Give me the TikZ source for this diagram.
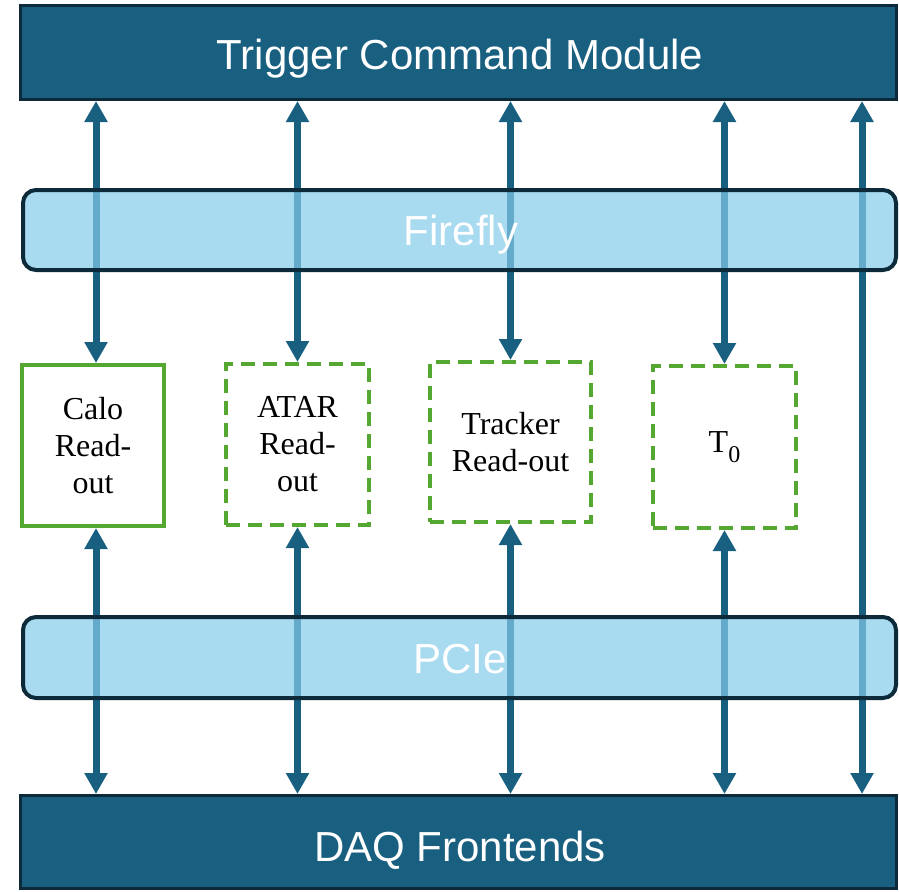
\documentclass[tikz,border=0pt]{standalone}
\usepackage{fontspec}
\setmainfont{Liberation Sans}
\newfontfamily\roserif{Liberation Serif}
\usetikzlibrary{arrows.meta}
\definecolor{modblue}{RGB}{24,95,128}
\definecolor{modedge}{RGB}{12,42,58}
\definecolor{linkblue}{RGB}{132,203,234}
\definecolor{rogreen}{RGB}{84,168,50}
\begin{document}
\begin{tikzpicture}[x=1pt,y=-1pt,
  module/.style={draw=modedge, fill=modblue, line width=3pt, inner sep=0pt},
  linkbar/.style={draw=modedge, line width=4pt, fill=linkblue, fill opacity=0.71,
    rounded corners=13pt, inner sep=0pt},
  readout/.style={draw=rogreen, line width=4pt, fill=white, inner sep=0pt,
    font=\roserif\fontsize{32}{37}\selectfont, align=center},
  pending/.style={readout, dash pattern=on 14pt off 8pt},
  bus/.style={draw=modblue, line width=7pt,
    {Triangle[width=22pt,length=21pt]}-{Triangle[width=22pt,length=21pt]}},
  banner/.style={text=white, font=\fontsize{42}{50}\selectfont, anchor=base, inner sep=0pt}]
\useasboundingbox (0,0) rectangle (899,891);

% top and bottom modules
\node[module, minimum width=876pt, minimum height=94pt] (tcm) at (458.5,52.5) {};
\node[module, minimum width=876pt, minimum height=93pt] (daq) at (458.5,842) {};

% read-out boards
\node[readout, minimum width=142pt, minimum height=161pt] (calo) at (93,445.5)
  {Calo\\Read-\\out};
\node[pending, minimum width=143pt, minimum height=161pt] (atar) at (297.5,444.5)
  {ATAR\\Read-\\out};
\node[pending, minimum width=161pt, minimum height=160pt] (tracker) at (510.5,442)
  {Tracker\\Read-out};
\node[pending, minimum width=143pt, minimum height=162pt] (tzero) at (724.5,447)
  {T\raisebox{-0.3em}{\fontsize{24}{28}\selectfont 0}};

% links
\coordinate (direct) at (862,0);
\draw[bus] ([xshift=3pt]calo.north) -- ([xshift=3pt]calo.north |- tcm.south);
\draw[bus] ([xshift=3pt]calo.south) -- ([xshift=3pt]calo.south |- daq.north);
\draw[bus] (atar.north) -- (atar.north |- tcm.south);
\draw[bus] (atar.south) -- (atar.south |- daq.north);
\draw[bus] (tracker.north) -- (tracker.north |- tcm.south);
\draw[bus] (tracker.south) -- (tracker.south |- daq.north);
\draw[bus] (tzero.north) -- (tzero.north |- tcm.south);
\draw[bus] (tzero.south) -- (tzero.south |- daq.north);
\draw[bus] (direct |- tcm.south) -- (direct |- daq.north);

% transport layers
\node[linkbar, minimum width=873pt, minimum height=80pt] (firefly) at (459.5,230) {};
\node[linkbar, minimum width=873pt, minimum height=81pt] (pcie) at (459.5,657.5) {};

% captions
\node[banner] (tcmtext) at (460,70) {Trigger Command Module};
\node[banner] (fftext) at (461,245) {Firefly};
\node[banner] (pcietext) at (460,673) {PCIe};
\node[banner] (daqtext) at (460,861) {DAQ Frontends};
\end{tikzpicture}
\end{document}
